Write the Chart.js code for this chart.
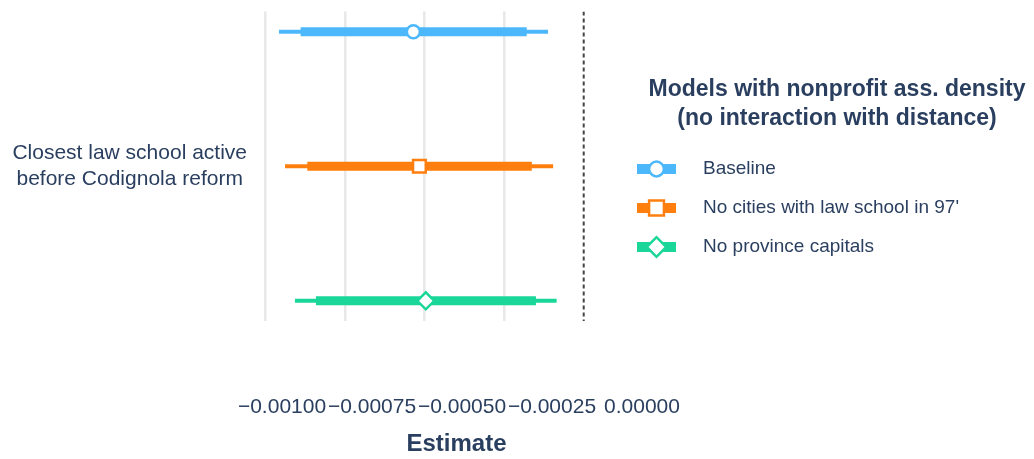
<!DOCTYPE html>
<html>
<head>
<meta charset="utf-8">
<title>Closest law school active before Codignola reform</title>
<script src="https://cdn.jsdelivr.net/npm/chart.js@4/dist/chart.umd.min.js"></script>
<style>
  html, body { margin: 0; padding: 0; background: #ffffff; }
  #wrap { width: 1034px; height: 459px; }
</style>
</head>
<body>
<div id="wrap"><canvas id="coefPlot" width="1034" height="459"></canvas></div>
<script>
// Coefficient estimates with 90% (thick) and 95% (thin) confidence intervals
const models = ['Baseline', "No cities with law school in 97'", 'No province capitals'];
const estimates = [-0.000535, -0.000516, -0.000496];
const ci90Low = [-0.000889, -0.000868, -0.000841];
const ci90High = [-0.000179, -0.000163, -0.000150];
const ci95Low = [-0.000957, -0.000938, -0.000907];
const ci95High = [-0.000112, -0.000096, -0.000085];

const termLabel = ['Closest law school active', 'before Codignola reform'];
const xTickValues = [-0.001, -0.00075, -0.0005, -0.00025, 0];
const xTickLabels = ['\u22120.00100', '\u22120.00075', '\u22120.00050', '\u22120.00025', '0.00000'];
const legendTitle = ['Models with nonprofit ass. density', '(no interaction with distance)'];
const axisTitle = 'Estimate';

// Styling
const FONT = "'Liberation Sans', Arial, Helvetica, sans-serif";
const TEXT = '#2a3f5f';
const palette = ['#4cb8fb', '#ff7f0e', '#1ad699'];
const markerStyles = ['circle', 'rect', 'rectRot'];
const markerRadius = [6.5, 9, 8.5];
const keyMarkerRadius = [7.4, 10.5, 9.8];

Chart.defaults.font.family = FONT;
Chart.defaults.color = TEXT;

// Each model sits on its own row of the y scale (0 at top)
const datasets = [];
models.forEach((name, i) => {
  datasets.push({
    label: name + ' 95%',
    data: [{ x: ci95Low[i], y: i }, { x: ci95High[i], y: i }],
    showLine: true,
    borderColor: palette[i],
    borderWidth: 4,
    pointRadius: 0,
    order: 3
  });
  datasets.push({
    label: name + ' 90%',
    data: [{ x: ci90Low[i], y: i }, { x: ci90High[i], y: i }],
    showLine: true,
    borderColor: palette[i],
    borderWidth: 9,
    pointRadius: 0,
    order: 2
  });
  datasets.push({
    label: name,
    data: [{ x: estimates[i], y: i }],
    pointStyle: markerStyles[i],
    pointRadius: markerRadius[i],
    pointBorderWidth: 2.5,
    pointBackgroundColor: '#ffffff',
    pointBorderColor: palette[i],
    keyIndex: i,
    order: 0
  });
});

// Reference line at zero
datasets.push({
  label: 'zero',
  data: [{ x: 0, y: -0.15 }, { x: 0, y: 2.15 }],
  showLine: true,
  borderColor: '#444444',
  borderWidth: 2,
  borderDash: [4, 3],
  pointRadius: 0,
  order: 4
});

function drawMarker(ctx, style, x, y, r) {
  ctx.beginPath();
  if (style === 'circle') {
    ctx.arc(x, y, r, 0, Math.PI * 2);
  } else if (style === 'rect') {
    const s = r * Math.SQRT1_2;
    ctx.rect(x - s, y - s, 2 * s, 2 * s);
  } else {
    ctx.moveTo(x - r, y);
    ctx.lineTo(x, y - r);
    ctx.lineTo(x + r, y);
    ctx.lineTo(x, y + r);
    ctx.closePath();
  }
  ctx.fill();
  ctx.stroke();
}

// Legend block on the right: two-line title plus one entry per model
const seriesKey = {
  id: 'seriesKey',
  afterDraw(chart, args, opts) {
    const ctx = chart.ctx;
    ctx.save();
    ctx.fillStyle = TEXT;
    ctx.textAlign = 'center';
    ctx.textBaseline = 'middle';
    ctx.font = 'bold ' + opts.titleSize + 'px ' + FONT;
    legendTitle.forEach((line, k) => {
      ctx.fillText(line, opts.titleX, opts.titleY + k * opts.titleLineHeight);
    });
    ctx.font = opts.labelSize + 'px ' + FONT;
    ctx.textAlign = 'left';
    chart.data.datasets.filter(d => d.keyIndex !== undefined).forEach(d => {
      const i = d.keyIndex;
      const y = opts.firstY + i * opts.step;
      ctx.strokeStyle = d.pointBorderColor;
      ctx.lineCap = 'butt';
      ctx.lineWidth = opts.barWidth;
      ctx.beginPath();
      ctx.moveTo(opts.iconLeft, y);
      ctx.lineTo(opts.iconRight, y);
      ctx.stroke();
      ctx.fillStyle = '#ffffff';
      ctx.lineWidth = 2.5;
      drawMarker(ctx, d.pointStyle, (opts.iconLeft + opts.iconRight) / 2, y, keyMarkerRadius[i]);
      ctx.fillStyle = TEXT;
      ctx.fillText(d.label, opts.textX, y);
    });
    ctx.restore();
  }
};

new Chart(document.getElementById('coefPlot'), {
  type: 'scatter',
  data: { datasets },
  plugins: [seriesKey],
  options: {
    responsive: false,
    devicePixelRatio: 1,
    animation: false,
    events: [],
    layout: { padding: { left: 10, top: 11, right: 374, bottom: 0 } },
    plugins: {
      legend: { display: false },
      tooltip: { enabled: false },
      seriesKey: {
        titleX: 837, titleY: 90, titleLineHeight: 29, titleSize: 23,
        labelSize: 19, firstY: 169, step: 39,
        iconLeft: 637, iconRight: 676, barWidth: 10, textX: 703
      }
    },
    scales: {
      x: {
        type: 'linear',
        position: 'bottom',
        min: -0.0010386,
        max: 0.0002396,
        afterBuildTicks: s => { s.ticks = xTickValues.map(v => ({ value: v })); },
        ticks: { display: false },
        grid: {
          drawTicks: false,
          lineWidth: 2.5,
          color: c => (c.tick && c.tick.value === 0) ? 'rgba(0,0,0,0)' : '#e8e8e8'
        },
        border: { display: false }
      },
      x2: {
        type: 'linear',
        axis: 'x',
        position: 'bottom',
        min: -0.0010806,
        max: 0.00005,
        afterBuildTicks: s => { s.ticks = xTickValues.map(v => ({ value: v })); },
        afterFit: s => { s.height = 138; },
        ticks: {
          autoSkip: false,
          maxRotation: 0,
          minRotation: 0,
          padding: 74,
          font: { size: 21 },
          color: TEXT,
          callback: (v, i) => xTickLabels[i]
        },
        grid: { display: false, drawTicks: false },
        border: { display: false },
        title: {
          display: true,
          text: axisTitle,
          color: TEXT,
          font: { size: 24, weight: 'bold' },
          padding: { top: 14, bottom: 0 }
        }
      },
      y: {
        type: 'linear',
        reverse: true,
        min: -0.15,
        max: 2.15,
        afterBuildTicks: s => { s.ticks = [{ value: 1 }]; },
        afterFit: s => { s.width = 243; s.paddingTop = 0; s.paddingBottom = 0; },
        ticks: {
          crossAlign: 'center',
          padding: 6,
          font: { size: 21 },
          color: TEXT,
          callback: () => termLabel
        },
        grid: { display: false, drawTicks: false },
        border: { display: false }
      }
    }
  }
});
</script>
</body>
</html>
